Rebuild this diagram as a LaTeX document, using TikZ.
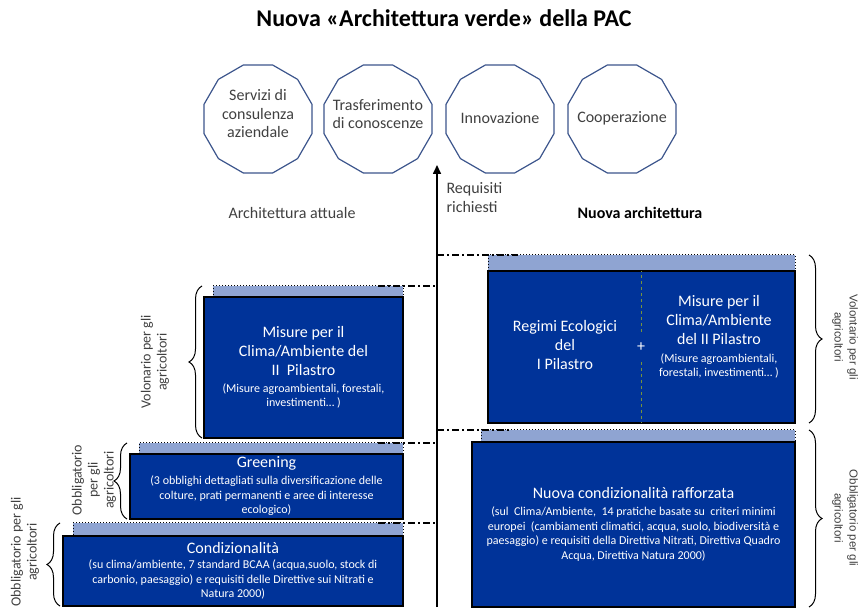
\documentclass[tikz,border=0pt]{standalone}
\usepackage{fontspec}
\setmainfont{Carlito}
\newfontfamily\arialfont{Liberation Sans}
\usetikzlibrary{shapes.geometric,decorations.pathreplacing,arrows.meta}

\definecolor{boxblue}{RGB}{0,51,153}
\definecolor{bandblue}{RGB}{143,164,210}
\definecolor{polyedge}{RGB}{60,85,140}
\definecolor{divgreen}{RGB}{119,147,60}
\definecolor{textgrey}{RGB}{64,64,64}

\newcommand{\boxtitle}[1]{{\fontsize{16}{19}\selectfont #1}}

\tikzset{
	poly/.style={regular polygon, regular polygon sides=12, minimum size=112pt, draw=polyedge, line width=1.2pt, inner sep=0pt},
	polytext/.style={text=textgrey, align=center, font=\fontsize{16}{18.5}\selectfont, inner sep=0pt},
	darkbox/.style={draw=black, line width=2pt, fill=boxblue, text=white, align=center, anchor=north west, font=\fontsize{12}{14.5}\selectfont, inner sep=0pt, outer sep=0pt},
	band/.style={draw=black, dotted, line width=1pt, fill=bandblue, anchor=north west, inner sep=0pt, outer sep=0pt},
	guide/.style={line width=1.2pt, dash pattern=on 7pt off 3pt on 2pt off 3pt},
	bracket/.style={decorate, decoration={brace, amplitude=13pt}, line width=1pt},
	sidelabel/.style={align=center, text=textgrey, font=\fontsize{14}{16}\selectfont},
	sidelabelR/.style={align=center, text=textgrey, font=\arialfont\fontsize{11.5}{15}\selectfont},
	whitetext/.style={text=white, align=center, font=\fontsize{16}{19}\selectfont}
}

\begin{document}
\begin{tikzpicture}[x=1pt, y=-1pt]
	\useasboundingbox (0, 0) rectangle (860, 609);

	% title and the four polygons
	\node[font=\fontsize{24}{28}\selectfont\bfseries] (title) at (444, 18) {Nuova «Architettura verde» della PAC};
	\node[poly] (servizi) at (258, 119) {};
	\node[poly] (trasf) at (378, 119) {};
	\node[poly] (innov) at (500, 119) {};
	\node[poly] (coop) at (622, 119) {};
	\node[polytext] (serviziText) at ([yshift=5pt]servizi) {Servizi di\\consulenza\\aziendale};
	\node[polytext] (trasfText) at ([yshift=5pt]trasf) {Trasferimento\\di conoscenze};
	\node[polytext] (innovText) at ([yshift=1pt]innov) {Innovazione};
	\node[polytext] (coopText) at ([yshift=1pt]coop) {Cooperazione};

	% central arrow
	\coordinate (base) at (437, 607);
	\coordinate (tip) at (437, 165);
	\draw[-{Triangle[length=9pt, width=8pt]}, line width=1.6pt] (base) -- (tip);
	\node[anchor=west, align=left, text=textgrey, font=\fontsize{16}{19}\selectfont] (req) at (443, 198) {Requisiti\\richiesti};

	\node[text=textgrey, font=\fontsize{16}{19}\selectfont] (attuale) at (292, 213) {Architettura attuale};
	\node[font=\fontsize{16}{19}\selectfont\bfseries] (nuova) at (640, 213) {Nuova architettura};

	% current architecture
	\node[band, minimum width=190pt, minimum height=11pt] (bandMisL) at (213, 286) {};
	\node[darkbox, minimum width=199pt, minimum height=141pt] (misL) at (204, 297) {\boxtitle{Misure per il}\\[4.5pt]\boxtitle{Clima/Ambiente del}\\[4.5pt]\boxtitle{II\ \ Pilastro}\\[2.5pt](Misure agroambientali, forestali,\\investimenti\dots\ )};

	\node[band, minimum width=264pt, minimum height=11pt] (bandGrL) at (139, 443) {};
	\node[darkbox, minimum width=273pt, minimum height=65pt] (green) at (130, 454) {\boxtitle{Greening}\\[2.5pt](3 obblighi dettagliati\ sulla diversificazione delle\\colture, prati permanenti e aree di interesse\\ecologico)};

	\node[band, minimum width=330pt, minimum height=13pt] (bandCond) at (73, 523) {};
	\node[darkbox, minimum width=340pt, minimum height=70pt] (cond) at (63, 536) {\boxtitle{Condizionalità}\\[0.5pt](su clima/ambiente,\ 7\ standard\ BCAA (acqua,suolo, stock di\\carbonio, paesaggio) e requisiti delle\ Direttive\ sui Nitrati e\\Natura 2000)};

	% new architecture
	\node[band, minimum width=307pt, minimum height=16pt] (bandMisR) at (488, 255) {};
	\node[darkbox, minimum width=307pt, minimum height=152pt] (regR) at (488, 271) {};
	\node[whitetext, minimum height=30pt, inner sep=0pt] (plus) at (641, 347) {+};
	\draw[divgreen, dashed, line width=1pt] (plus.north) -- (plus.north |- regR.north);
	\draw[divgreen, dashed, line width=1pt] (plus.south) -- (plus.south |- regR.south);
	\node[whitetext] (regimi) at (565, 345) {Regimi Ecologici\\del\\I Pilastro};
	\node[whitetext, font=\fontsize{12}{14.5}\selectfont] (misR) at (719, 337) {\boxtitle{Misure per il}\\[4.5pt]\boxtitle{Clima/Ambiente}\\[4.5pt]\boxtitle{del II Pilastro}\\[3.5pt](Misure agroambientali,\\forestali, investimenti\dots\ )};

	\node[band, minimum width=314pt, minimum height=12pt] (bandCondR) at (481, 430) {};
	\node[darkbox, minimum width=323pt, minimum height=165pt] (condR) at (472, 442) {\boxtitle{Nuova condizionalità rafforzata}\\[2.5pt](sul\ \ Clima/Ambiente,\ \ 14 pratiche basate su\ \ criteri minimi\\europei\ \ (cambiamenti climatici, acqua, suolo, biodiversità e\\paesaggio) e requisiti della\ Direttiva Nitrati, Direttiva Quadro\\Acqua, Direttiva Natura 2000)};

	% dash-dot guides to the arrow
	\draw[guide] ([xshift=-25pt]bandMisL.north east) -- (bandMisL.north east -| tip);
	\draw[guide] ([xshift=-25pt]bandGrL.north east) -- (bandGrL.north east -| tip);
	\draw[guide] ([xshift=-25pt]bandCond.north east) -- (bandCond.north east -| tip);
	\draw[guide] (bandMisR.north west -| tip) -- ([xshift=30pt]bandMisR.north west);
	\draw[guide] (bandCondR.north west -| tip) -- ([xshift=30pt]bandCondR.north west);

	% braces and their labels
	\draw[bracket] ([xshift=-2pt]misL.south west) -- ([xshift=-2pt]misL.south west |- bandMisL.north);
	\draw[bracket] ([xshift=-3pt]green.south west) -- ([xshift=-3pt]green.south west |- bandGrL.north);
	\draw[bracket] ([xshift=-3pt]cond.south west) -- ([xshift=-3pt]cond.south west |- bandCond.north);
	\draw[bracket] ([xshift=14pt]regR.east |- bandMisR.north) -- ([xshift=14pt]regR.south east);
	\draw[bracket] ([xshift=14pt]condR.east |- bandCondR.north) -- ([xshift=14pt]condR.south east);

	\node[sidelabel, rotate=90] (volL) at (155, 362) {Volonario per gli\\agricoltori};
	\node[sidelabel, rotate=90] (obbGr) at (94, 480) {Obbligatorio\\per gli\\agricoltori};
	\node[sidelabel, rotate=90] (obbCond) at (25, 552) {Obbligatorio per gli\\agricoltori};
	\node[sidelabelR, rotate=-90] (volR) at (845, 337) {Volontario per gli\\agricoltori};
	\node[sidelabelR, rotate=-90] (obbR) at (845, 518) {Obbligatorio per gli\\agricoltori};
\end{tikzpicture}
\end{document}
